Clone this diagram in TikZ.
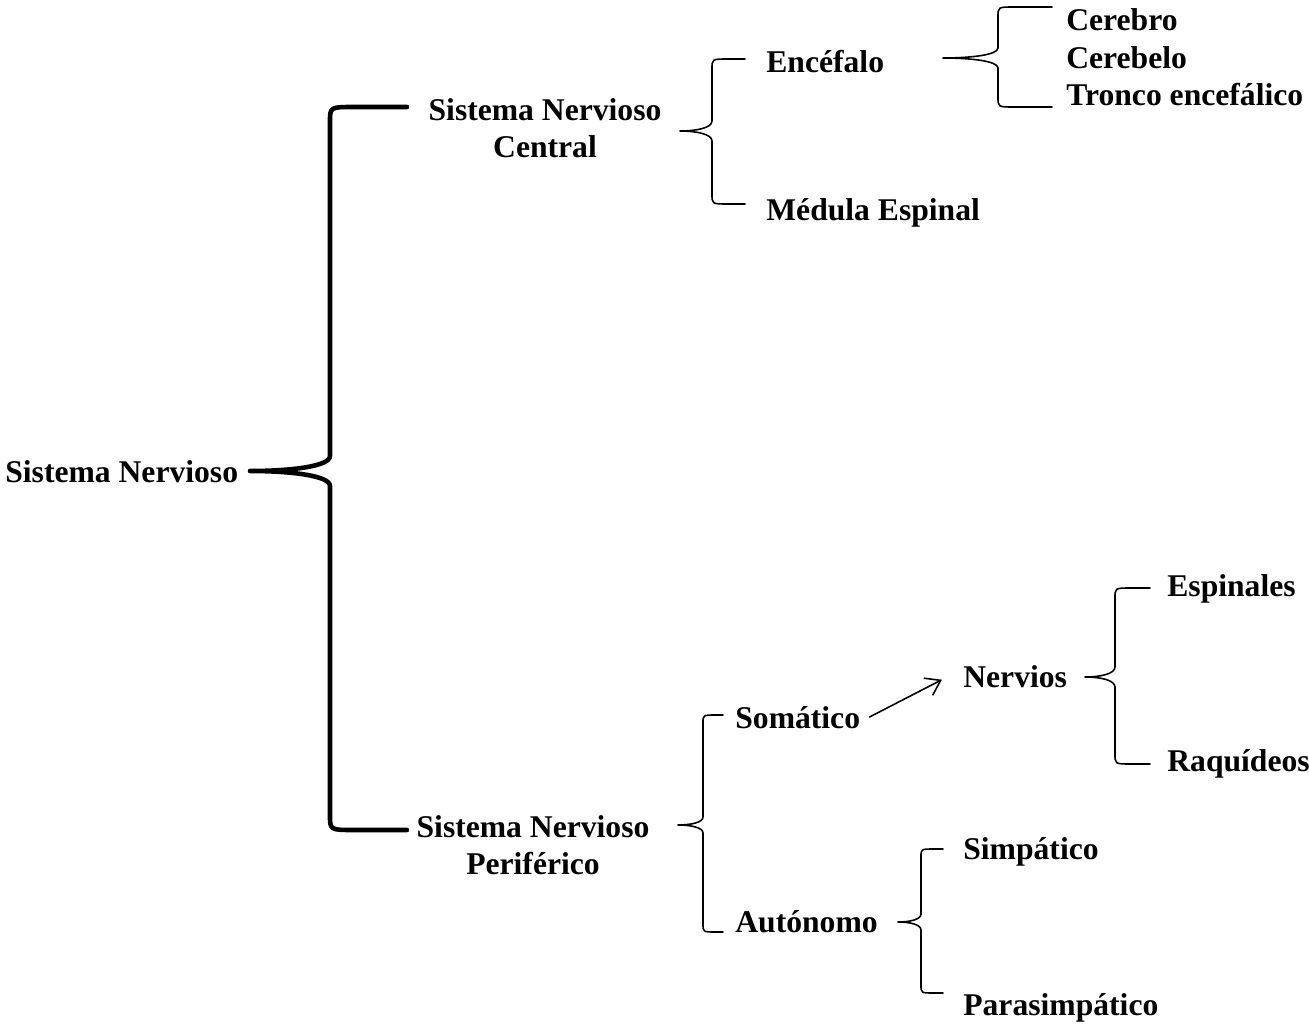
\documentclass[tikz,border=0pt]{standalone}
\usepackage{fontspec}
\setmainfont{Liberation Serif}
\usetikzlibrary{arrows.meta,calc}

% llave: [estilo]{punta}{brazo arriba}{brazo abajo}{dx vertical}{radio}
\newcommand{\llave}[6][]{%
  \draw[#1] let \p1=(#2), \p2=(#3), \p3=(#4), \n1={\x1+#5}, \n2={#6}, \n3={0.5*\x1+0.5*\n1} in
    (\p2) -- (\n1+1.6*\n2,\y2) .. controls (\n1,\y2) .. (\n1,\y2-\n2)
    -- (\n1,\y1+\n2) .. controls (\n1,\y1+0.3*\n2) and (\n3,\y1) .. (\p1)
    .. controls (\n3,\y1) and (\n1,\y1-0.3*\n2) .. (\n1,\y1-\n2)
    -- (\n1,\y3+\n2) .. controls (\n1,\y3) .. (\n1+1.6*\n2,\y3) -- (\p3);
}

\begin{document}
\begin{tikzpicture}[x=0.02cm, y=-0.02cm,
    texto/.style={font=\fontsize{18}{21}\selectfont\bfseries, inner sep=0pt, anchor=base west},
    doble/.style={texto, align=center, anchor=base},
    llave/.style={line width=0.9pt, line join=round, line cap=round},
    llavegruesa/.style={line width=2.6pt, line join=round, line cap=round},
    flecha/.style={-{Straight Barb[length=8pt,width=11pt]}, line width=0.9pt}]
    \useasboundingbox (0,0) rectangle (1309,1024);

    % textos (las dobles se colocan por la linea de abajo)
    \node[texto] (sn) at (5,482) {Sistema Nervioso};
    \node[doble] (snc) at (545,157) {Sistema Nervioso\\Central};
    \node[doble] (snp) at (533,874) {Sistema Nervioso\\Periférico};
    \node[texto] (enc) at (766,73) {Encéfalo};
    \node[texto] (med) at (766,220) {Médula Espinal};
    \node[texto] (cer) at (1066,31) {Cerebro};
    \node[texto] (cbl) at (1066,69) {Cerebelo};
    \node[texto] (tro) at (1066,106) {Tronco encefálico};
    \node[texto] (som) at (735,728) {Somático};
    \node[texto] (aut) at (735,932) {Autónomo};
    \node[texto] (ner) at (963,687) {Nervios};
    \node[texto] (esp) at (1167,596) {Espinales};
    \node[texto] (raq) at (1167,771) {Raquídeos};
    \node[texto] (sim) at (963,859) {Simpático};
    \node[texto] (par) at (963,1015) {Parasimpático};

    % puntas y brazos de las llaves
    \coordinate (sn-p) at (250,471);
    \coordinate (sn-a) at (407,107);
    \coordinate (sn-b) at (407,830);
    \coordinate (snc-p) at (680,131);
    \coordinate (snc-a) at (745,59);
    \coordinate (snc-b) at (745,204);
    \coordinate (enc-p) at (943,58);
    \coordinate (enc-a) at (1052,7);
    \coordinate (enc-b) at (1052,107);
    \coordinate (snp-p) at (678,825);
    \coordinate (snp-a) at (723,715);
    \coordinate (snp-b) at (723,932);
    \coordinate (ner-p) at (1085,677);
    \coordinate (ner-a) at (1150,588);
    \coordinate (ner-b) at (1150,764);
    \coordinate (aut-p) at (898,922);
    \coordinate (aut-a) at (943,849);
    \coordinate (aut-b) at (943,993);

    \llave[llavegruesa]{sn-p}{sn-a}{sn-b}{1.6cm}{0.3cm}
    \llave[llave]{snc-p}{snc-a}{snc-b}{0.64cm}{0.2cm}
    \llave[llave]{enc-p}{enc-a}{enc-b}{1.1cm}{0.2cm}
    \llave[llave]{snp-p}{snp-a}{snp-b}{0.5cm}{0.16cm}
    \llave[llave]{ner-p}{ner-a}{ner-b}{0.6cm}{0.2cm}
    \llave[llave]{aut-p}{aut-a}{aut-b}{0.46cm}{0.16cm}

    \draw[flecha] ([xshift=5pt]som.east) -- ([xshift=-12pt,yshift=-2pt]ner.west);
\end{tikzpicture}
\end{document}
